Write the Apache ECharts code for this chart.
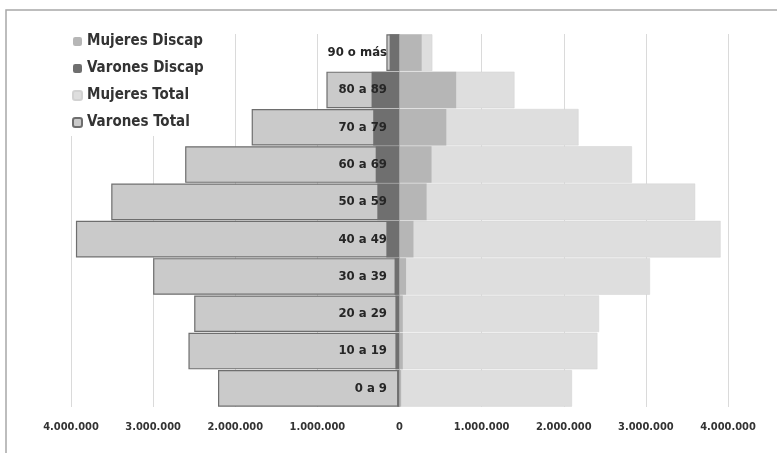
<!DOCTYPE html>
<html>
<head>
<meta charset="utf-8">
<script src="https://cdn.jsdelivr.net/npm/echarts@6/dist/echarts.min.js"></script>
<style>html,body{margin:0;padding:0;background:#fff;}#c{width:777px;height:453px;}</style>
</head>
<body>
<div id="c"></div>
<script>
var categories = ['0 a 9','10 a 19','20 a 29','30 a 39','40 a 49','50 a 59','60 a 69','70 a 79','80 a 89','90 o más'];
var varonesTotal = [2210000,2570000,2500000,3000000,3940000,3510000,2610000,1800000,890000,160000];
var mujeresTotal = [2100000,2410000,2430000,3050000,3910000,3600000,2830000,2180000,1400000,400000];
var varonesDiscap = [30000,50000,50000,60000,160000,270000,290000,320000,340000,120000];
var mujeresDiscap = [20000,40000,40000,80000,170000,330000,390000,570000,690000,270000];

var FONT = "'Liberation Sans Narrow','DejaVu Sans Condensed','Roboto','Liberation Sans',sans-serif";
function neg(a){return a.map(function(v){return -v;});}
function fmt(v){
  var s = String(Math.abs(Math.round(v)));
  return s.replace(/\B(?=(\d{3})+(?!\d))/g,'.');
}
var labelData = categories.map(function(c){return [0, c];});
var chart = echarts.init(document.getElementById('c'));
chart.setOption({
  animation:false,
  backgroundColor:'#fff',
  textStyle:{fontFamily:FONT},
  graphic:[{type:'rect',shape:{x:6,y:10,width:820,height:500},style:{fill:'none',stroke:'#a8a8a8',lineWidth:1.5},z:0}],
  legend:{
    orient:'vertical',left:70,top:31,
    backgroundColor:'#fff',padding:[3,6,6,2],
    itemWidth:9,itemHeight:9,itemGap:12,
    textStyle:{fontFamily:FONT,fontWeight:'bold',fontSize:15,color:'#333'},
    data:['Mujeres Discap','Varones Discap','Mujeres Total','Varones Total'],
    z:5
  },
  grid:{left:71,right:49,top:34,bottom:46,containLabel:false},
  xAxis:{
    type:'value',min:-4000000,max:4000000,interval:1000000,
    axisLine:{show:false},axisTick:{show:false},
    splitLine:{lineStyle:{color:'#dadada',width:1}},
    axisLabel:{margin:15,fontFamily:FONT,fontWeight:'bold',fontSize:11,color:'#333',formatter:function(v){return fmt(v);}}
  },
  yAxis:{
    type:'category',data:categories,
    axisLine:{show:false},axisTick:{show:false},axisLabel:{show:false}
  },
  series:[
    {name:'Varones Total',type:'bar',data:neg(varonesTotal),barGap:'-100%',barCategoryGap:'2%',
      itemStyle:{color:'#cacaca',borderColor:'#6e6e6e',borderWidth:1.2}},
    {name:'Mujeres Total',type:'bar',data:mujeresTotal,barGap:'-100%',barCategoryGap:'2%',
      itemStyle:{color:'#dedede',borderColor:'#d2d2d2',borderWidth:0.5}},
    {name:'Varones Discap',type:'bar',data:neg(varonesDiscap),barGap:'-100%',barCategoryGap:'2%',
      itemStyle:{color:'#6f6f6f'}},
    {name:'Mujeres Discap',type:'bar',data:mujeresDiscap,barGap:'-100%',barCategoryGap:'2%',
      itemStyle:{color:'#b6b6b6'}},
    {name:'labels',type:'scatter',data:labelData,symbolSize:1,itemStyle:{color:'rgba(0,0,0,0)',opacity:1},z:10,silent:true,
      label:{show:true,position:'left',distance:12,fontFamily:FONT,fontWeight:'bold',fontSize:13,color:'#262626',opacity:1,
        formatter:function(p){return p.value[1];}}}
  ]
});
</script>
</body>
</html>
